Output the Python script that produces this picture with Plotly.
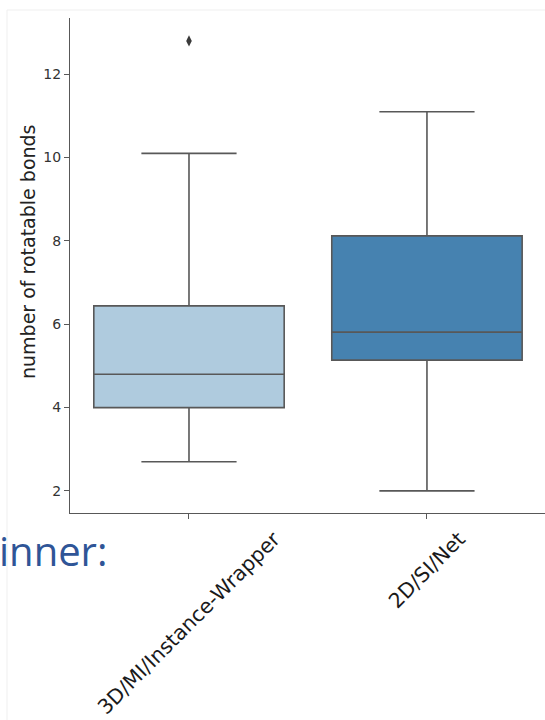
import plotly.graph_objects as go

# Box statistics per method (number of rotatable bonds)
groups = ["3D/MI/Instance-Wrapper", "2D/SI/Net"]
lower_whisker = [2.7, 2.0]
q1 = [4.0, 5.14]
median = [4.8, 5.81]
q3 = [6.44, 8.12]
upper_whisker = [10.1, 11.1]
fill_colors = ["#afcbde", "#4682b0"]

# Points beyond the whiskers
outlier_group = ["3D/MI/Instance-Wrapper"]
outlier_value = [12.8]

y_ticks = [2, 4, 6, 8, 10, 12]

W, H = 545, 720
ML, MR, MT, MB = 70, 0, 18, 207
PW, PH = W - ML - MR, H - MT - MB


def px_x(p):
    return (p - ML) / PW


def px_y(p):
    return (H - MB - p) / PH


LINE = "#585858"

fig = go.Figure()
for i, g in enumerate(groups):
    fig.add_trace(go.Box(
        x=[g], q1=[q1[i]], median=[median[i]], q3=[q3[i]],
        lowerfence=[lower_whisker[i]], upperfence=[upper_whisker[i]],
        fillcolor=fill_colors[i], line=dict(color=LINE, width=1.6),
        width=0.8, whiskerwidth=0.5, boxpoints=False,
        showlegend=False, hoverinfo="skip",
    ))

fig.add_trace(go.Scatter(
    x=outlier_group, y=outlier_value, mode="markers",
    marker=dict(symbol="diamond-tall", size=8, color="#3a3a3a",
                line=dict(width=0)),
    showlegend=False, hoverinfo="skip",
))

annotations = []
# rotated category labels, centred under each tick
for g in groups:
    annotations.append(dict(
        x=g, xref="x", y=px_y(524), yref="paper", text=g, showarrow=False,
        textangle=-45, xanchor="center", yanchor="top",
        font=dict(family="DejaVu Sans", size=20.5, color="#1a1a1a"),
    ))
# y-axis title
annotations.append(dict(
    x=px_x(28), xref="paper", y=px_y(252), yref="paper",
    text="number of rotatable bonds", showarrow=False, textangle=-90,
    xanchor="center", yanchor="middle",
    font=dict(family="DejaVu Sans", size=19, color="#222222"),
))
# slide heading fragment
annotations.append(dict(
    x=px_x(-3), xref="paper", y=px_y(550), yref="paper", text="inner:",
    showarrow=False, xanchor="left", yanchor="middle",
    font=dict(family="Open Sans", size=40, color="#2f5597"),
))

shapes = [
    dict(type="line", xref="paper", yref="paper", x0=px_x(7), x1=1.0,
         y0=px_y(10), y1=px_y(10), line=dict(color="#efefef", width=1)),
    dict(type="line", xref="paper", yref="paper", x0=px_x(7), x1=px_x(7),
         y0=px_y(10), y1=px_y(720), line=dict(color="#efefef", width=1)),
]

fig.update_layout(
    width=W, height=H,
    margin=dict(l=ML, r=MR, t=MT, b=MB, pad=0),
    paper_bgcolor="white", plot_bgcolor="white",
    annotations=annotations, shapes=shapes,
    xaxis=dict(
        type="category", categoryorder="array", categoryarray=groups,
        range=[-0.5, 1.496], showline=True, linecolor=LINE, linewidth=1.3,
        ticks="outside", ticklen=5, tickcolor=LINE, tickwidth=1.2,
        showticklabels=False, showgrid=False, zeroline=False,
    ),
    yaxis=dict(
        range=[1.47, 13.35], tickvals=y_ticks,
        showline=True, linecolor=LINE, linewidth=1.3,
        ticks="outside", ticklen=5, tickcolor=LINE, tickwidth=1.2,
        tickfont=dict(family="DejaVu Sans", size=14, color="#333333"),
        showgrid=False, zeroline=False,
    ),
)

fig.write_html("out.html")
